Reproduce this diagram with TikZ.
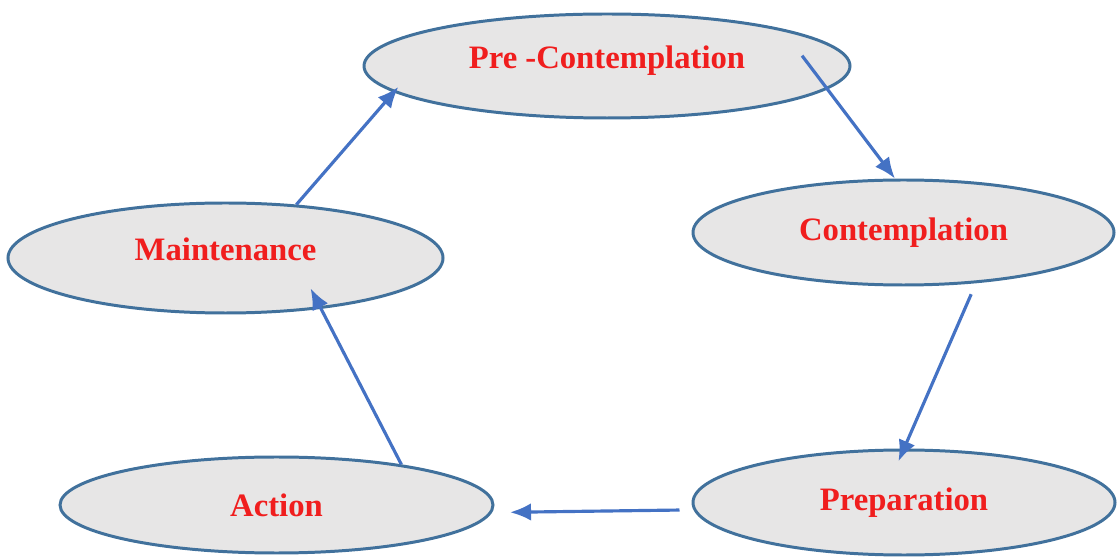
\documentclass[tikz,border=0pt]{standalone}
\usepackage{fontspec}
\setmainfont{Liberation Serif}
\definecolor{stagefill}{RGB}{231, 230, 230}
\definecolor{stageline}{RGB}{65, 113, 156}
\definecolor{stagetext}{RGB}{240, 30, 30}
\definecolor{flowblue}{RGB}{68, 114, 196}
\usepackage{tikz}
\usetikzlibrary{shapes.geometric, arrows.meta, positioning}

\begin{document}
\begin{tikzpicture}[
    stage/.style={draw=stageline, ellipse, fill=stagefill, line width=0.85pt, inner sep=0pt,
                  text=stagetext, font=\fontsize{9.3}{11}\selectfont\bfseries},
    flow/.style={draw=flowblue, line width=0.9pt, -{Latex[length=6pt, width=5pt]}}
]
    \useasboundingbox (0, 0) rectangle (11.17, 5.57);

    \node[stage, minimum width=4.86cm, minimum height=1.04cm] (pre) at (6.07, 4.91) {\raisebox{0.05cm}[\height][\depth]{Pre -Contemplation}};
    \node[stage, minimum width=4.21cm, minimum height=1.05cm] (cont) at (9.035, 3.245) {Contemplation};
    \node[stage, minimum width=4.22cm, minimum height=1.05cm] (prep) at (9.04, 0.545) {Preparation};
    \node[stage, minimum width=4.33cm, minimum height=0.96cm] (act) at (2.765, 0.52) {Action};
    \node[stage, minimum width=4.35cm, minimum height=1.10cm] (maint) at (2.255, 2.99) {\raisebox{0.09cm}[\height][\depth]{Maintenance}};

    \draw[flow, shorten <=-0.42cm] (pre.-6.3) -- (cont.99);
    \draw[flow, shorten <=0.12cm, shorten >=-0.14cm] (cont.-35) -- (prep.north);
    \draw[flow, shorten <=0.14cm, shorten >=0.18cm] (prep.182) -- (act.-2);
    \draw[flow, shorten >=-0.23cm] (act.18) -- (maint.-28);
    \draw[flow, shorten >=-0.07cm] (maint.37) -- (pre.187.5);
\end{tikzpicture}
\end{document}
